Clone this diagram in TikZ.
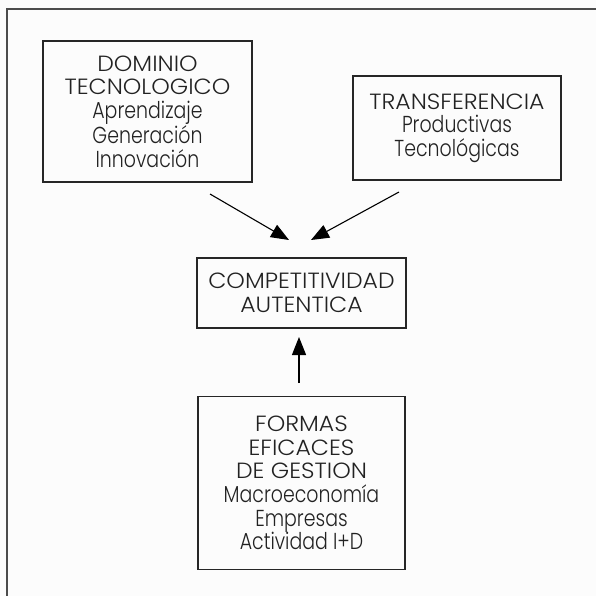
\documentclass[tikz,border=0pt]{standalone}
\usepackage{fontspec}
\setmainfont{Poppins}[UprightFont=* Light]
\newfontfamily\fcaps{Poppins}[UprightFont=* Light, FakeStretch=1.07, Scale=1.0]
\newfontfamily\flow{Poppins}[UprightFont=* Light, FakeStretch=0.82, Scale=1.05]
\usetikzlibrary{arrows.meta}
\definecolor{txt}{HTML}{222222}
\definecolor{bg}{HTML}{FCFCFC}
\tikzset{
  box/.style={draw=black!85, line width=1.1pt, rectangle, align=center, inner sep=0pt,
    font=\fontsize{22}{23.6}\selectfont, text=txt},
  conn/.style={line width=1.1pt, -{Triangle[length=18pt,width=14pt]}},
}
\begin{document}
\begin{tikzpicture}[x=1pt,y=-1pt]
\fill[bg] (0,0) rectangle (596,596);
\useasboundingbox (0,0) rectangle (596,596);
\draw[line width=2pt, black!70] (7,596) -- (7,9) -- (596,9);
\node[box, minimum width=209pt, minimum height=141pt] (dom) at (147.5,111.5)
  {{\fcaps DOMINIO}\\{\fcaps TECNOLOGICO}\\{\flow Aprendizaje}\\{\flow Generación}\\{\flow Innovación}};
\node[box, minimum width=208pt, minimum height=104pt] (tra) at (457,128)
  {{\fcaps TRANSFERENCIA}\\{\flow Productivas}\\{\flow Tecnológicas}};
\node[box, minimum width=209pt, minimum height=70pt] (com) at (301.5,293)
  {{\fcaps COMPETITIVIDAD}\\{\fcaps AUTENTICA}};
\node[box, minimum width=207pt, minimum height=173pt] (for) at (301.5,483)
  {{\fcaps FORMAS}\\{\fcaps EFICACES}\\{\fcaps DE GESTION}\\{\flow Macroeconomía}\\{\flow Empresas}\\{\flow Actividad I+D}};
\coordinate (a1) at (210,194);
\coordinate (a1e) at (289,240);
\coordinate (a2) at (399,192);
\coordinate (a2e) at (311,240);
\coordinate (a3) at (299,383);
\coordinate (a3e) at (299,337);
\draw[conn] (a1) -- (a1e);
\draw[conn] (a2) -- (a2e);
\draw[conn] (a3) -- (a3e);
\end{tikzpicture}
\end{document}
